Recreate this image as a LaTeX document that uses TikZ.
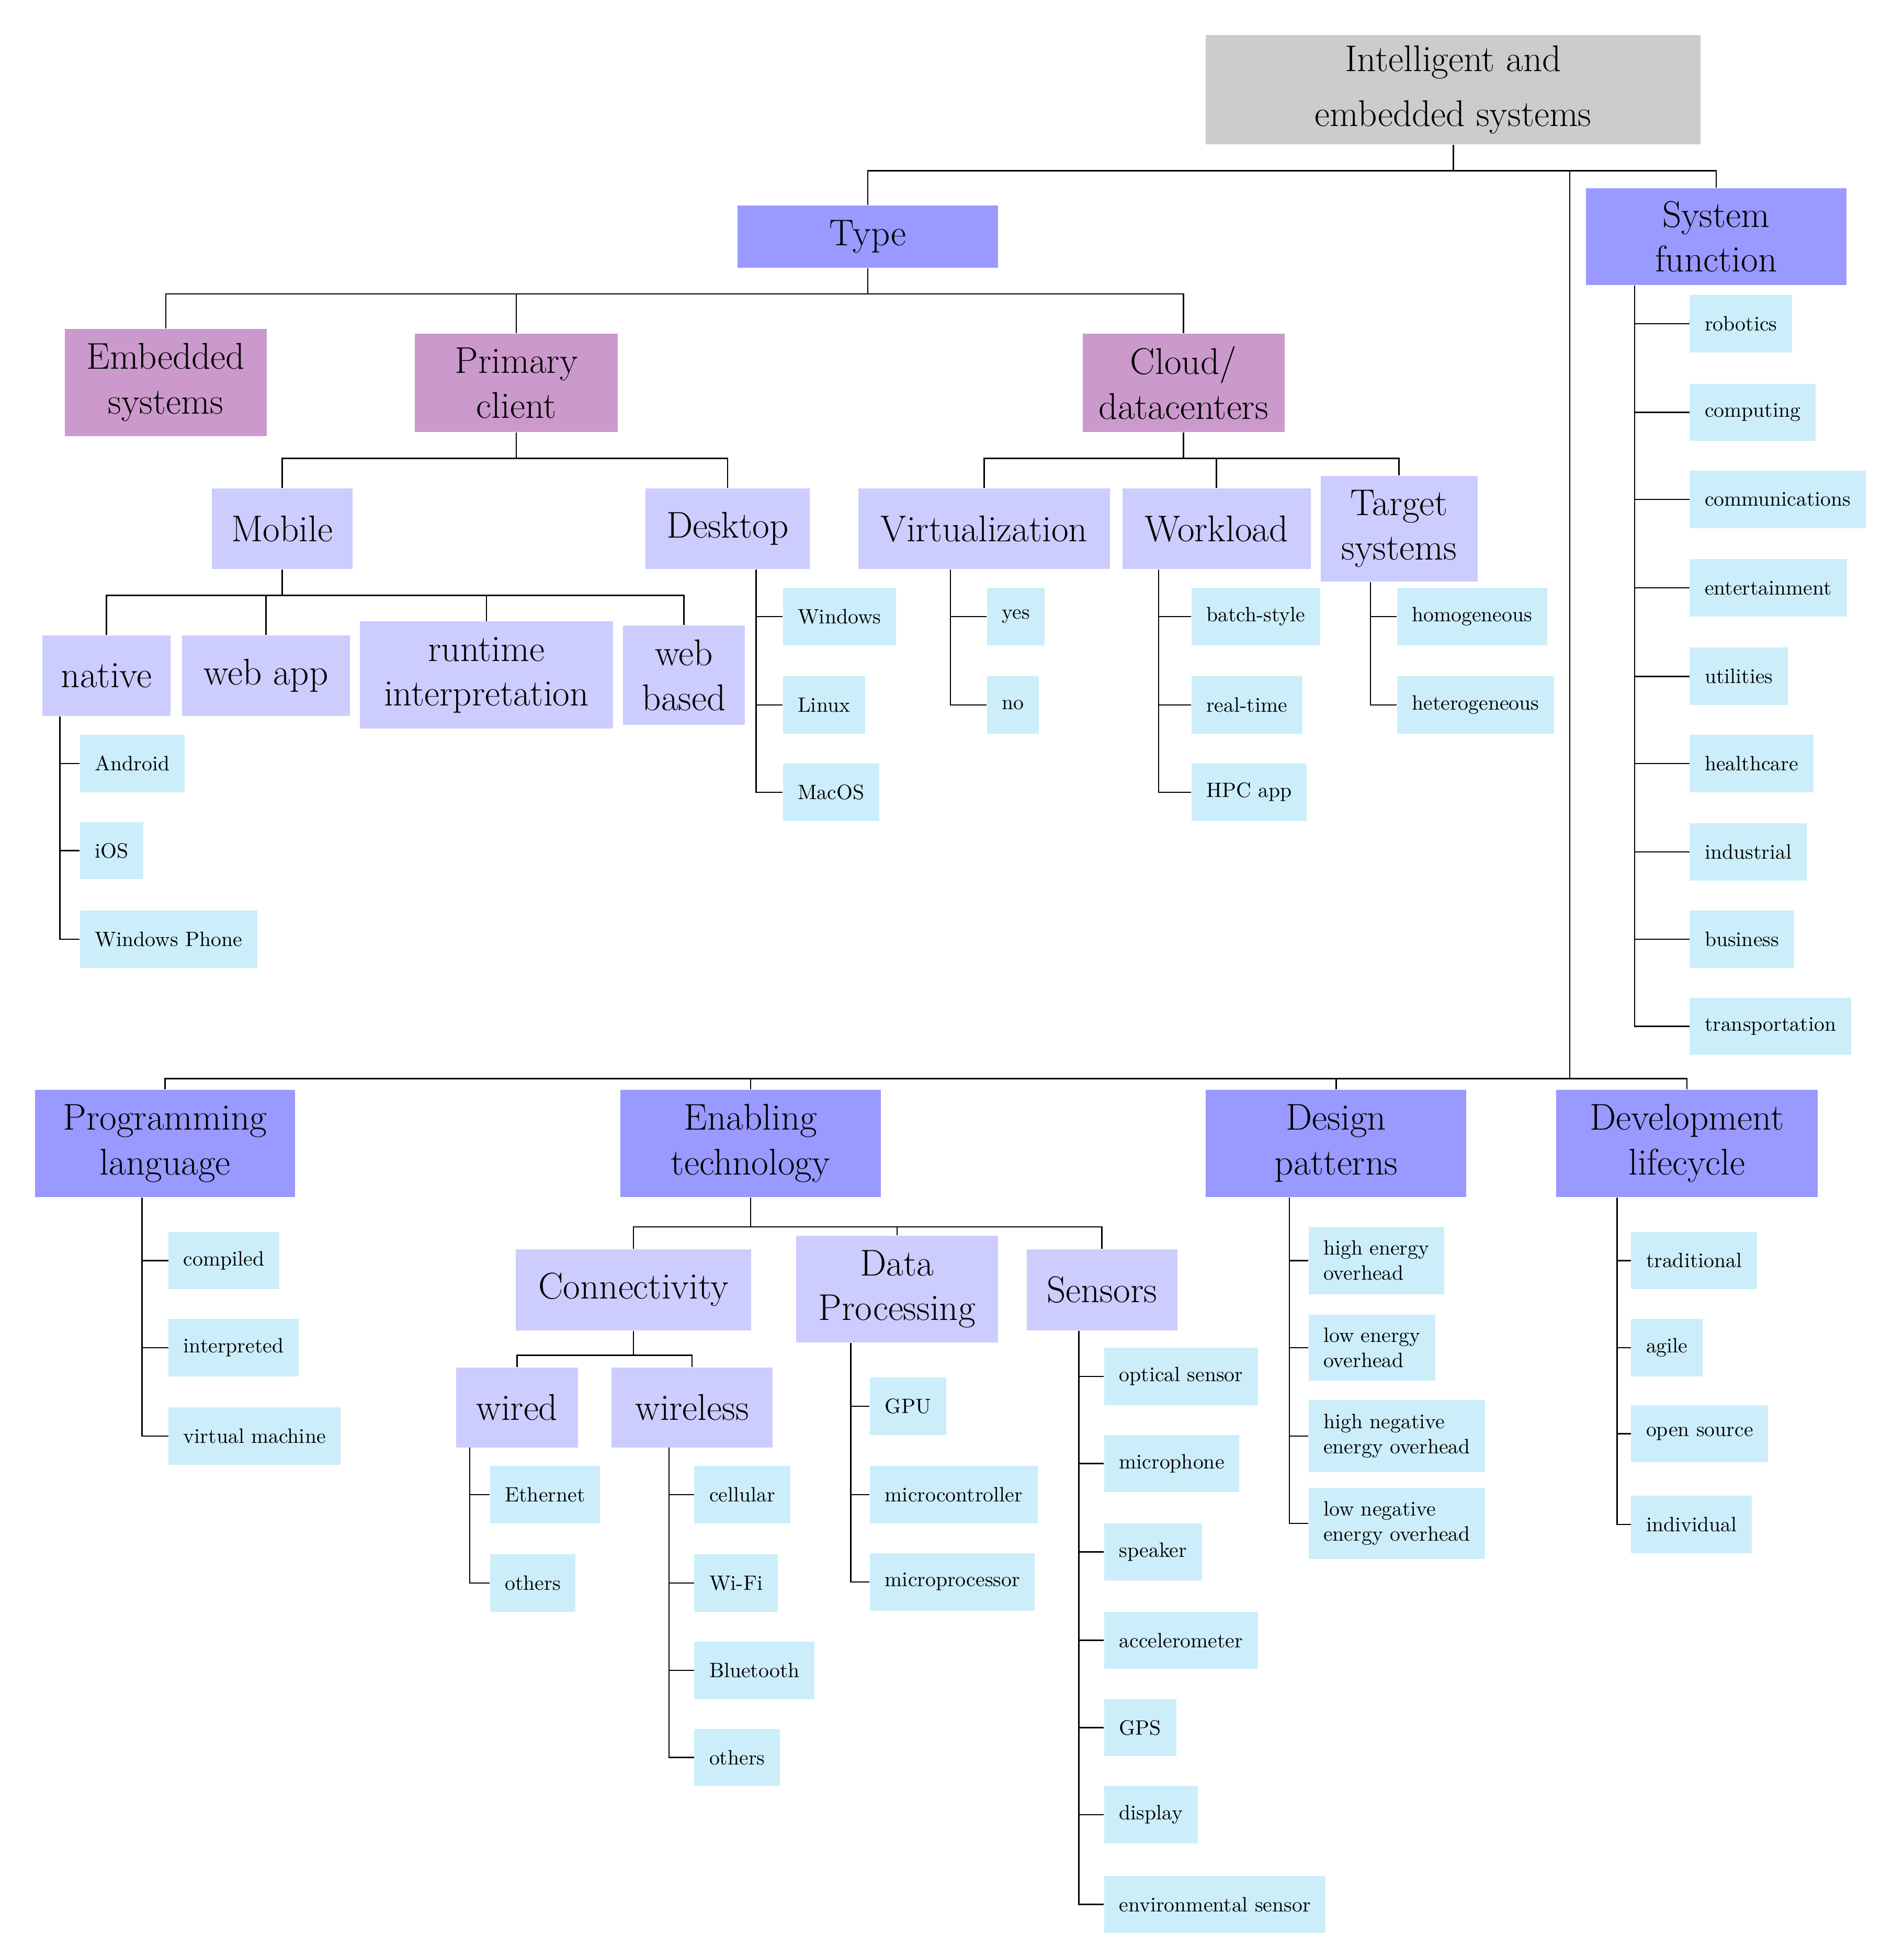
\documentclass[tikz,border=0pt]{standalone}
\begin{document}
\begin{tikzpicture}[x=0.02cm,y=-0.02cm,
 big/.style={inner sep=0pt,align=center,font=\fontsize{17}{20.5}\selectfont},
 rootc/.style={big,fill=black!20,font=\fontsize{17}{25}\selectfont},
 lv1/.style={big,fill=blue!40},
 lv2/.style={big,fill=violet!40!magenta!40!white,fill={rgb,255:red,204;green,153;blue,204}},
 lv3/.style={big,fill={rgb,255:red,204;green,204;blue,255}},
 leaf/.style={anchor=west,inner xsep=0.24cm,inner ysep=0pt,minimum height=0.92cm,align=left,
   fill={rgb,255:red,204;green,238;blue,250},font=\fontsize{9.5}{11.5}\selectfont},
 ln/.style={draw=black,line width=0.6pt}]
\tikzset{lv1/.append style={fill={rgb,255:red,153;green,153;blue,255}}}
\newcommand\bx[7]{\node[#6,minimum width={(#4-#2)*0.02cm},minimum height={(#5-#3)*0.02cm}] (#1) at ({(#2+#4)/2},{(#3+#5)/2}) {#7};}
\newcommand\lf[4]{\node[leaf] (#1) at (#2,#3) {#4};}
\useasboundingbox (0,0) rectangle (1528,1572);
% boxes
\bx{root}{968}{28}{1365}{116}{rootc}{Intelligent and\\embedded systems}
\bx{type}{592}{165}{801}{215}{lv1}{Type}
\bx{sysf}{1273}{151}{1482}{229}{lv1}{System\\function}
\bx{emb}{52}{264}{214}{350}{lv2}{Embedded\\systems}
\bx{prim}{333}{268}{496}{347}{lv2}{Primary\\client}
\bx{cloud}{869}{268}{1031}{347}{lv2}{Cloud/\\datacenters}
\bx{mob}{170}{392}{283}{457}{lv3}{Mobile}
\bx{desk}{518}{392}{650}{457}{lv3}{Desktop}
\bx{virt}{689}{392}{891}{457}{lv3}{Virtualization}
\bx{work}{901}{392}{1052}{457}{lv3}{Workload}
\bx{targ}{1060}{382}{1186}{467}{lv3}{Target\\systems}
\bx{nat}{34}{510}{137}{575}{lv3}{native}
\bx{wapp}{146}{510}{281}{575}{lv3}{web app}
\bx{rti}{289}{499}{492}{585}{lv3}{runtime\\interpretation}
\bx{wb}{500}{502}{598}{582}{lv3}{web\\based}
\bx{prog}{28}{875}{237}{961}{lv1}{Programming\\language}
\bx{enab}{498}{875}{707}{961}{lv1}{Enabling\\technology}
\bx{desg}{968}{875}{1177}{961}{lv1}{Design\\patterns}
\bx{dev}{1249}{875}{1459}{961}{lv1}{Development\\lifecycle}
\bx{conn}{414}{1003}{603}{1068}{lv3}{Connectivity}
\bx{data}{639}{992}{801}{1078}{lv3}{Data\\Processing}
\bx{sens}{824}{1003}{945}{1068}{lv3}{Sensors}
\bx{wired}{366}{1098}{464}{1162}{lv3}{wired}
\bx{wless}{491}{1098}{620}{1162}{lv3}{wireless}
% leaves
\lf{a1}{64}{613}{Android}\lf{a2}{64}{683}{iOS}\lf{a3}{64}{754}{Windows Phone}
\lf{d1}{628}{495}{Windows}\lf{d2}{628}{566}{Linux}\lf{d3}{628}{636}{MacOS}
\lf{v1}{792}{495}{yes}\lf{v2}{792}{566}{no}
\lf{w1}{956}{495}{batch-style}\lf{w2}{956}{566}{real-time}\lf{w3}{956}{636}{HPC app}
\lf{t1}{1121}{495}{homogeneous}\lf{t2}{1121}{566}{heterogeneous}
\lf{s1}{1356}{260}{robotics}\lf{s2}{1356}{331}{computing}\lf{s3}{1356}{401}{communications}
\lf{s4}{1356}{472}{entertainment}\lf{s5}{1356}{543}{utilities}\lf{s6}{1356}{613}{healthcare}
\lf{s7}{1356}{684}{industrial}\lf{s8}{1356}{754}{business}\lf{s9}{1356}{824}{transportation}
\lf{p1}{135}{1012}{compiled}\lf{p2}{135}{1082}{interpreted}\lf{p3}{135}{1153}{virtual machine}
\lf{e1}{393}{1200}{Ethernet}\lf{e2}{393}{1271}{others}
\lf{c1}{557}{1200}{cellular}\lf{c2}{557}{1271}{Wi-Fi}\lf{c3}{557}{1341}{Bluetooth}\lf{c4}{557}{1411}{others}
\lf{g1}{698}{1129}{GPU}\lf{g2}{698}{1200}{microcontroller}\lf{g3}{698}{1270}{microprocessor}
\lf{n1}{886}{1105}{optical sensor}\lf{n2}{886}{1175}{microphone}\lf{n3}{886}{1246}{speaker}
\lf{n4}{886}{1317}{accelerometer}\lf{n5}{886}{1387}{GPS}\lf{n6}{886}{1457}{display}
\lf{n7}{886}{1529}{environmental sensor}
\node[leaf,minimum height=1.08cm] (q1) at (1050,1012) {high energy\\overhead};
\node[leaf,minimum height=1.06cm] (q2) at (1050,1082) {low energy\\overhead};
\node[leaf,minimum height=1.16cm] (q3) at (1050,1153) {high negative\\energy overhead};
\node[leaf,minimum height=1.14cm] (q4) at (1050,1223) {low negative\\energy overhead};
\lf{l1}{1309}{1012}{traditional}\lf{l2}{1309}{1082}{agile}\lf{l3}{1309}{1151}{open source}\lf{l4}{1309}{1224}{individual}
% bus coordinates
\coordinate (b0) at (0,137);\coordinate (j1) at (1260,137);\coordinate (b2) at (0,866);
\coordinate (b1) at (0,236);\coordinate (b3) at (0,368);\coordinate (b4) at (0,478);
\coordinate (b5) at (0,985);\coordinate (b6) at (0,1088);
\draw[ln] (root.south) -- (root.south |- b0) -| (type.north);
\draw[ln] (root.south |- b0) -| (sysf.north);
\draw[ln] (j1) -- (j1 |- b2) -| (prog.north);
\draw[ln] (j1 |- b2) -| (enab.north);
\draw[ln] (j1 |- b2) -| (desg.north);
\draw[ln] (j1 |- b2) -| (dev.north);
\foreach \c in {emb,prim,cloud}{\draw[ln] (type.south) -- (type.south |- b1) -| (\c.north);}
\foreach \c in {mob,desk}{\draw[ln] (prim.south) -- (prim.south |- b3) -| (\c.north);}
\foreach \c in {virt,work,targ}{\draw[ln] (cloud.south) -- (cloud.south |- b3) -| (\c.north);}
\foreach \c in {nat,wapp,rti,wb}{\draw[ln] (mob.south) -- (mob.south |- b4) -| (\c.north);}
\foreach \c in {conn,data,sens}{\draw[ln] (enab.south) -- (enab.south |- b5) -| (\c.north);}
\foreach \c in {wired,wless}{\draw[ln] (conn.south) -- (conn.south |- b6) -| (\c.north);}
% leaf connectors
\newcommand\lc[3]{\coordinate (tmp) at (#2,0);\foreach \c in {#3}{\draw[ln] (#1.south -| tmp) |- (\c.west);}}
\lc{nat}{48}{a1,a2,a3}
\lc{desk}{607}{d1,d2,d3}
\lc{virt}{763}{v1,v2}
\lc{work}{930}{w1,w2,w3}
\lc{targ}{1100}{t1,t2}
\lc{sysf}{1312}{s1,s2,s3,s4,s5,s6,s7,s8,s9}
\lc{prog}{114}{p1,p2,p3}
\lc{wired}{377}{e1,e2}
\lc{wless}{537}{c1,c2,c3,c4}
\lc{data}{683}{g1,g2,g3}
\lc{sens}{866}{n1,n2,n3,n4,n5,n6,n7}
\lc{desg}{1035}{q1,q2,q3,q4}
\lc{dev}{1298}{l1,l2,l3,l4}
\end{tikzpicture}
\end{document}
